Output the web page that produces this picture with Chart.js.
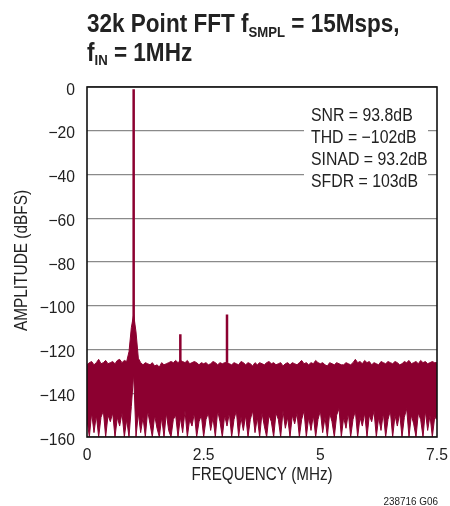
<!DOCTYPE html>
<html><head><meta charset="utf-8">
<script src="https://cdn.jsdelivr.net/npm/chart.js@4.4.1/dist/chart.umd.min.js"></script>
<style>html,body{margin:0;padding:0;background:#fff;}canvas{display:block;}</style>
</head><body>
<canvas id="c" width="450" height="506"></canvas>
<script>
// ---- data ----
const noiseStep = 0.05; // MHz between envelope samples (0 .. 7.5)
const noiseTop = [
 -127,-126,-125.5,-127,-126,-124.5,-126.5,-126,-125,-126.5,
 -126,-125.5,-126.5,-125,-124.5,-126,-125,-125.5,-121,-110,
 -104,-112,-124,-126,-127,-126,-126.5,-127,-126,-127.5,
 -127,-128,-126,-127,-126.5,-126,-125.5,-126,-125,-126,
 -125,-125.5,-126,-125,-126.5,-126,-125.5,-126,-127,-126,
 -126.5,-126,-127,-126.5,-125.5,-126,-127,-126,-126.5,-126,
 -126,-126.5,-127,-126,-126.5,-127,-125.5,-126,-127,-126,
 -126.5,-127.5,-126,-127,-126,-126.5,-127,-126,-125.5,-126.5,
 -126,-127,-126.5,-126,-127.5,-126.5,-126,-127,-126,-126.5,
 -127,-126,-125,-126.5,-126,-127,-126,-126.5,-125,-126,
 -126.5,-126,-127,-127.5,-126,-126.5,-127,-126,-126.5,-127,
 -127,-126,-126.5,-127,-126,-124.5,-126,-125.5,-126.5,-125,
 -126,-125.5,-127,-126,-126.5,-127,-125.5,-126,-126.5,-125.5,
 -126,-126.5,-125.5,-126,-127,-126.5,-125.5,-126,-125,-126.5,
 -126,-125.5,-126.5,-125,-126,-125.5,-126.5,-126,-125.5,-126,
 -126
];
const noiseBottom = [
 -152,-160,-149,-158,-150,-160,-151,-148,-160,-150,
 -153,-149,-160,-151,-155,-149,-160,-152,-160,-146,
 -131,-160,-149,-158,-151,-160,-148,-154,-160,-150,
 -156,-160,-151,-160,-149,-157,-160,-152,-150,-160,
 -151,-158,-148,-160,-152,-155,-149,-160,-153,-150,
 -160,-152,-149,-157,-151,-160,-148,-153,-160,-150,
 -155,-149,-160,-152,-148,-160,-151,-157,-150,-160,
 -152,-148,-158,-151,-160,-149,-155,-160,-150,-153,
 -160,-149,-152,-160,-148,-156,-151,-160,-150,-154,
 -149,-160,-152,-148,-160,-151,-157,-150,-160,-152,
 -148,-158,-151,-160,-149,-153,-160,-150,-147,-160,
 -151,-156,-149,-160,-152,-148,-160,-151,-155,-149,
 -160,-150,-153,-148,-160,-151,-157,-149,-160,-152,
 -148,-160,-150,-155,-149,-160,-151,-147,-160,-150,
 -154,-160,-149,-152,-160,-148,-157,-150,-160,-151,
 -152
];
const toneFreq  = [1, 2, 3];          // MHz
const toneLevel = [-1, -113, -104];   // dBFS
const toneBase  = [-131, -126, -126]; // dBFS
const xTickLabels = ['0', '2.5', '5', '7.5'];
const statsLines = ['SNR = 93.8dB', 'THD = \u2212102dB', 'SINAD = 93.2dB', 'SFDR = 103dB'];

const RED = '#8c0030';
const INK = '#222';
const FAM = "'Liberation Sans', Arial, sans-serif";

const topPts = noiseTop.map((v, i) => ({x: +(i * noiseStep).toFixed(3), y: v}));
const botPts = noiseBottom.map((v, i) => ({x: +(i * noiseStep).toFixed(3), y: v}));
const tonePts = [];
toneFreq.forEach((f, i) => {
  tonePts.push({x: f, y: toneBase[i]}, {x: f, y: toneLevel[i]}, {x: f, y: null});
});

// condensed text helper (emulates a condensed sans)
function drawText(ctx, s, x, y, size, weight, sx, align, rot) {
  ctx.save();
  ctx.translate(x, y);
  if (rot) ctx.rotate(rot);
  ctx.scale(sx, 1);
  ctx.font = weight + ' ' + size + 'px ' + FAM;
  ctx.textAlign = align || 'left';
  ctx.textBaseline = 'alphabetic';
  ctx.fillStyle = INK;
  ctx.fillText(s, 0, 0);
  const w = ctx.measureText(s).width * sx;
  ctx.restore();
  return w;
}

const decor = {
  id: 'decor',
  beforeDatasetsDraw(chart) {
    const ctx = chart.ctx;
    ctx.save();
    ctx.fillStyle = '#fff';
    ctx.fillRect(304, 100, 124, 92);
    ctx.restore();
  },
  afterDraw(chart) {
    const ctx = chart.ctx, a = chart.chartArea;
    const xs = chart.scales.x, ys = chart.scales.y;
    ctx.save();
    ctx.strokeStyle = '#111';
    ctx.lineWidth = 1.6;
    ctx.strokeRect(a.left, a.top, a.right - a.left, a.bottom - a.top);
    ctx.restore();
    // y tick labels
    ys.ticks.forEach(t => {
      const lab = t.value === 0 ? '0' : '\u2212' + Math.abs(t.value);
      drawText(ctx, lab, a.left - 12, ys.getPixelForValue(t.value) + 7.5, 16.5, 'normal', 0.95, 'right');
    });
    // x tick labels
    xs.ticks.forEach((t, i) => {
      drawText(ctx, xTickLabels[i], xs.getPixelForValue(t.value), 460, 16.5, 'normal', 0.95, 'center');
    });
    // axis titles
    drawText(ctx, 'FREQUENCY (MHz)', (a.left + a.right) / 2, 480, 17.5, 'normal', 0.87, 'center');
    drawText(ctx, 'AMPLITUDE (dBFS)', 27.3, 260.5, 17.5, 'normal', 0.88, 'center', -Math.PI / 2);
    // stats
    statsLines.forEach((t, i) => drawText(ctx, t, 311, 120.7 + i * 22, 18, 'normal', 0.88, 'left'));
    // title
    let x = 87;
    x += drawText(ctx, '32k Point FFT f', x, 32, 26.5, 'bold', 0.85);
    x += drawText(ctx, 'SMPL', x, 36.5, 15.5, 'bold', 0.85);
    x += drawText(ctx, ' = 15Msps,', x, 32, 26.5, 'bold', 0.85);
    x = 87;
    x += drawText(ctx, 'f', x, 60.5, 26.5, 'bold', 0.85);
    x += drawText(ctx, 'IN', x, 65, 15.5, 'bold', 0.85);
    x += drawText(ctx, ' = 1MHz', x, 60.5, 26.5, 'bold', 0.85);
    // footnote
    drawText(ctx, '238716 G06', 438, 505, 11, 'normal', 0.9, 'right');
  }
};

new Chart(document.getElementById('c'), {
  type: 'line',
  data: {
    datasets: [
      {data: topPts, borderColor: RED, backgroundColor: RED, borderWidth: 1, pointRadius: 0, fill: '+1', tension: 0},
      {data: botPts, borderColor: RED, borderWidth: 1, pointRadius: 0, fill: false, tension: 0},
      {data: tonePts, borderColor: RED, borderWidth: 2.5, pointRadius: 0, fill: false, spanGaps: false}
    ]
  },
  options: {
    responsive: false,
    animation: false,
    events: [],
    layout: {padding: {top: 87, right: 13, left: 0, bottom: 0}},
    plugins: {legend: {display: false}, tooltip: {enabled: false}},
    scales: {
      x: {
        type: 'linear', min: 0, max: 7.5,
        grid: {display: false, drawTicks: false},
        border: {display: false},
        ticks: {stepSize: 2.5, display: false},
        title: {display: false},
        afterFit: s => { s.height = 69; }
      },
      y: {
        min: -160, max: 0,
        grid: {color: '#8a8a8a', lineWidth: 1.3, drawTicks: false},
        border: {display: false},
        ticks: {stepSize: 20, display: false},
        title: {display: false},
        afterFit: s => { s.width = 87; }
      }
    }
  },
  plugins: [decor]
});
</script>
</body></html>
